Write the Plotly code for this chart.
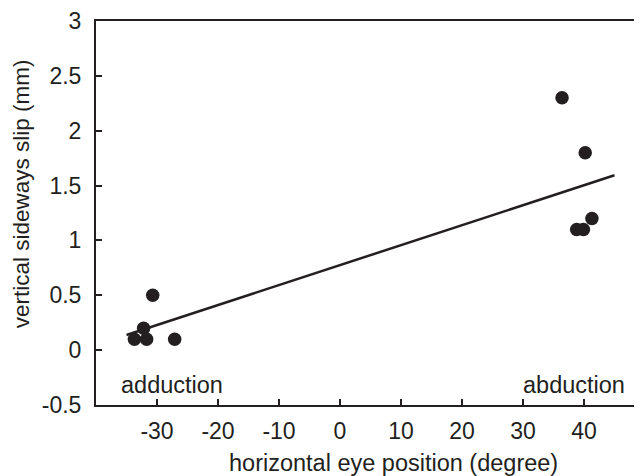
import numpy as np
import plotly.graph_objects as go

# Data
eye_position = [36.4, 40.2, 41.3, 38.8, 39.9, -30.7, -32.2, -33.7, -31.7, -27.1]
sideways_slip = [2.3, 1.8, 1.2, 1.1, 1.1, 0.5, 0.2, 0.1, 0.1, 0.1]
fit_x_span = [-35, 45]

x_tick_vals = [-30, -20, -10, 0, 10, 20, 30, 40]
x_tick_text = ["-30", "-20", "-10", "0", "10", "20", "30", "40"]
y_tick_vals = [-0.5, 0, 0.5, 1, 1.5, 2, 2.5, 3]
y_tick_text = ["-0.5", "0", "0.5", "1", "1.5", "2", "2.5", "3"]

x_title = "horizontal eye position (degree)"
y_title = "vertical sideways slip (mm)"
left_label = "adduction"
right_label = "abduction"

INK = "#231f20"
FONT = "Liberation Sans, Arial, Helvetica, sans-serif"

slope, intercept = np.polyfit(eye_position, sideways_slip, 1)
fit_x = np.array(fit_x_span, dtype=float)
fit_y = slope * fit_x + intercept

fig = go.Figure()
fig.add_trace(go.Scatter(x=fit_x, y=fit_y, mode="lines",
                         line=dict(color=INK, width=2.5), showlegend=False,
                         hoverinfo="skip"))
fig.add_trace(go.Scatter(x=eye_position, y=sideways_slip, mode="markers",
                         marker=dict(color=INK, size=13.5, line=dict(width=0)),
                         showlegend=False))

fig.update_layout(
    width=642, height=476,
    margin=dict(l=88, r=5, t=13, b=79, autoexpand=False),
    paper_bgcolor="white", plot_bgcolor="white",
    font=dict(family=FONT, size=23, color=INK),
    xaxis=dict(range=[-40, 50], tickvals=x_tick_vals, ticktext=x_tick_text,
               ticks="inside", ticklen=6, tickwidth=1.5, tickcolor=INK,
               showline=True, linecolor=INK, linewidth=2, mirror=True,
               showgrid=False, zeroline=False, ticklabelstandoff=4,
               automargin=False, tickfont=dict(size=23, color=INK)),
    yaxis=dict(range=[-0.5, 3], tickvals=y_tick_vals, ticktext=y_tick_text,
               ticks="inside", ticklen=6, tickwidth=1.5, tickcolor=INK,
               showline=True, linecolor=INK, linewidth=2, mirror="ticks",
               showgrid=False, zeroline=False, ticklabelstandoff=8,
               automargin=False, tickfont=dict(size=23, color=INK)),
    annotations=[
        dict(text=x_title, xref="paper", yref="paper", x=0.541, y=-0.151,
             xanchor="center", yanchor="middle", showarrow=False,
             font=dict(size=23.5, color=INK)),
        dict(text=y_title, xref="paper", yref="paper", x=-0.135, y=0.551,
             xanchor="center", yanchor="middle", showarrow=False, textangle=-90,
             font=dict(size=22.5, color=INK)),
        dict(text=left_label, xref="x", yref="y", x=-36.3, y=-0.32,
             xanchor="left", yanchor="middle", showarrow=False,
             font=dict(size=23.5, color=INK)),
        dict(text=right_label, xref="x", yref="y", x=47.0, y=-0.32,
             xanchor="right", yanchor="middle", showarrow=False,
             font=dict(size=23.5, color=INK)),
    ],
)

fig.write_html("out.html")
